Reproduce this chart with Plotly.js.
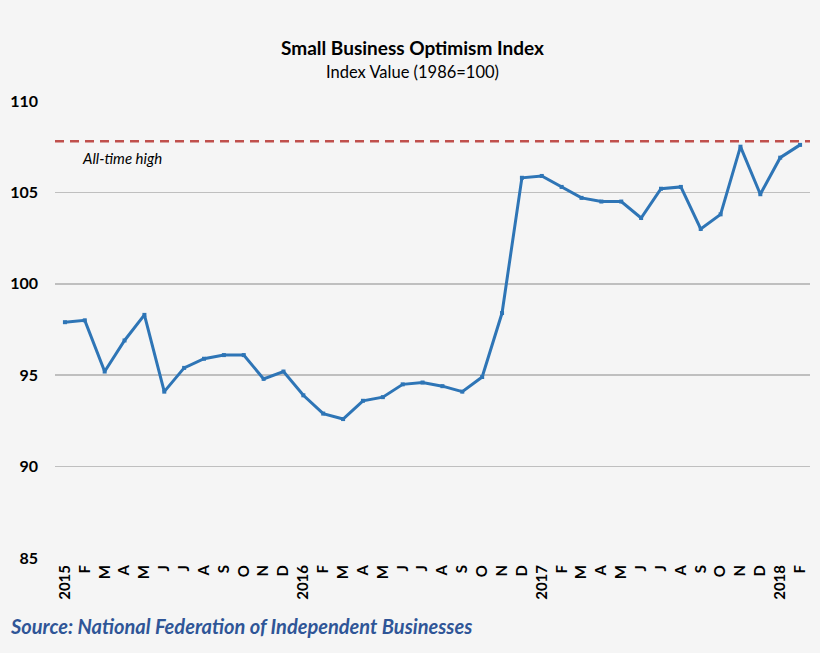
<!DOCTYPE html>
<html>
<head>
<meta charset="utf-8">
<script src="https://cdn.plot.ly/plotly-3.0.1.min.js"></script>
<style>
  body { margin: 0; background: #f5f5f5; }
  #plot { width: 820px; height: 653px; }
</style>
</head>
<body>
<div id="plot"></div>
<script>
// month labels, Jan 2015 .. Feb 2018
var months = ['2015','F','M','A','M','J','J','A','S','O','N','D',
              '2016','F','M','A','M','J','J','A','S','O','N','D',
              '2017','F','M','A','M','J','J','A','S','O','N','D',
              '2018','F'];
var optimism = [97.9, 98.0, 95.2, 96.9, 98.3, 94.1, 95.4, 95.9, 96.1, 96.1, 94.8, 95.2,
                93.9, 92.9, 92.6, 93.6, 93.8, 94.5, 94.6, 94.4, 94.1, 94.9, 98.4, 105.8,
                105.9, 105.3, 104.7, 104.5, 104.5, 103.6, 105.2, 105.3, 103.0, 103.8, 107.5, 104.9,
                106.9, 107.6];
var allTimeHigh = 107.8;

var idx = [];
for (var i = 0; i < months.length; i++) idx.push(i);

var data = [
    {
        type: 'scatter',
        mode: 'lines+markers',
        x: idx,
        y: optimism,
        line: { color: '#2e75b6', width: 3 },
        marker: { color: '#2e75b6', size: 4, symbol: 'square' },
        hoverinfo: 'y'
    },
    {
        type: 'scatter',
        mode: 'lines',
        x: [-0.5, months.length - 0.5],
        y: [allTimeHigh, allTimeHigh],
        line: { color: '#c0504d', width: 2.5, dash: '9px,6px' },
        hoverinfo: 'skip'
    }
];

var layout = {
    width: 820,
    height: 653,
    showlegend: false,
    paper_bgcolor: '#f5f5f5',
    plot_bgcolor: '#f5f5f5',
    margin: { l: 55, r: 10, t: 101, b: 95 },
    font: { family: 'Lato, "Open Sans", sans-serif', color: '#000' },
    xaxis: {
        range: [-0.5, months.length - 0.5],
        tickmode: 'array',
        tickvals: idx,
        ticktext: months,
        tickangle: -90,
        tickfont: { size: 15, family: 'Lato, sans-serif', weight: 'bold' },
        showgrid: false,
        zeroline: false,
        showline: false,
        ticks: '',
        ticklabelstandoff: 3,
        fixedrange: true
    },
    yaxis: {
        range: [85, 110],
        tickvals: [85, 90, 95, 100, 105, 110],
        tickfont: { size: 16, family: 'Lato, sans-serif', weight: 'bold' },
        gridcolor: '#bfbfbf',
        gridwidth: 1.5,
        zeroline: false,
        showline: false,
        ticks: '',
        ticklabelstandoff: 16,
        fixedrange: true
    },
    annotations: [
        {
            xref: 'paper', yref: 'paper', x: 0.473, y: 1, xanchor: 'center', yanchor: 'bottom',
            yshift: 40, showarrow: false,
            text: '<b>Small Business Optimism Index</b>',
            font: { size: 19, family: 'Lato, sans-serif', color: '#000' }
        },
        {
            xref: 'paper', yref: 'paper', x: 0.473, y: 1, xanchor: 'center', yanchor: 'bottom',
            yshift: 17, showarrow: false,
            text: 'Index Value (1986=100)',
            font: { size: 16.5, family: 'Lato, sans-serif', color: '#000' }
        },
        {
            xref: 'x', yref: 'y', x: 0.6, y: allTimeHigh, xanchor: 'left', yanchor: 'top',
            xshift: 3, yshift: -6, showarrow: false,
            text: '<i>All-time high</i>',
            font: { size: 15, family: 'Lato, sans-serif', color: '#000' }
        },
        {
            xref: 'paper', yref: 'paper', x: -0.062, y: 0, xanchor: 'left', yanchor: 'top',
            yshift: -54, showarrow: false,
            text: '<b><i>Source: National Federation of Independent Businesses</i></b>',
            font: { size: 20, family: 'Lato, sans-serif', color: '#2f5597' }
        }
    ]
};

Plotly.newPlot('plot', data, layout, { displayModeBar: false, staticPlot: true });
</script>
</body>
</html>
